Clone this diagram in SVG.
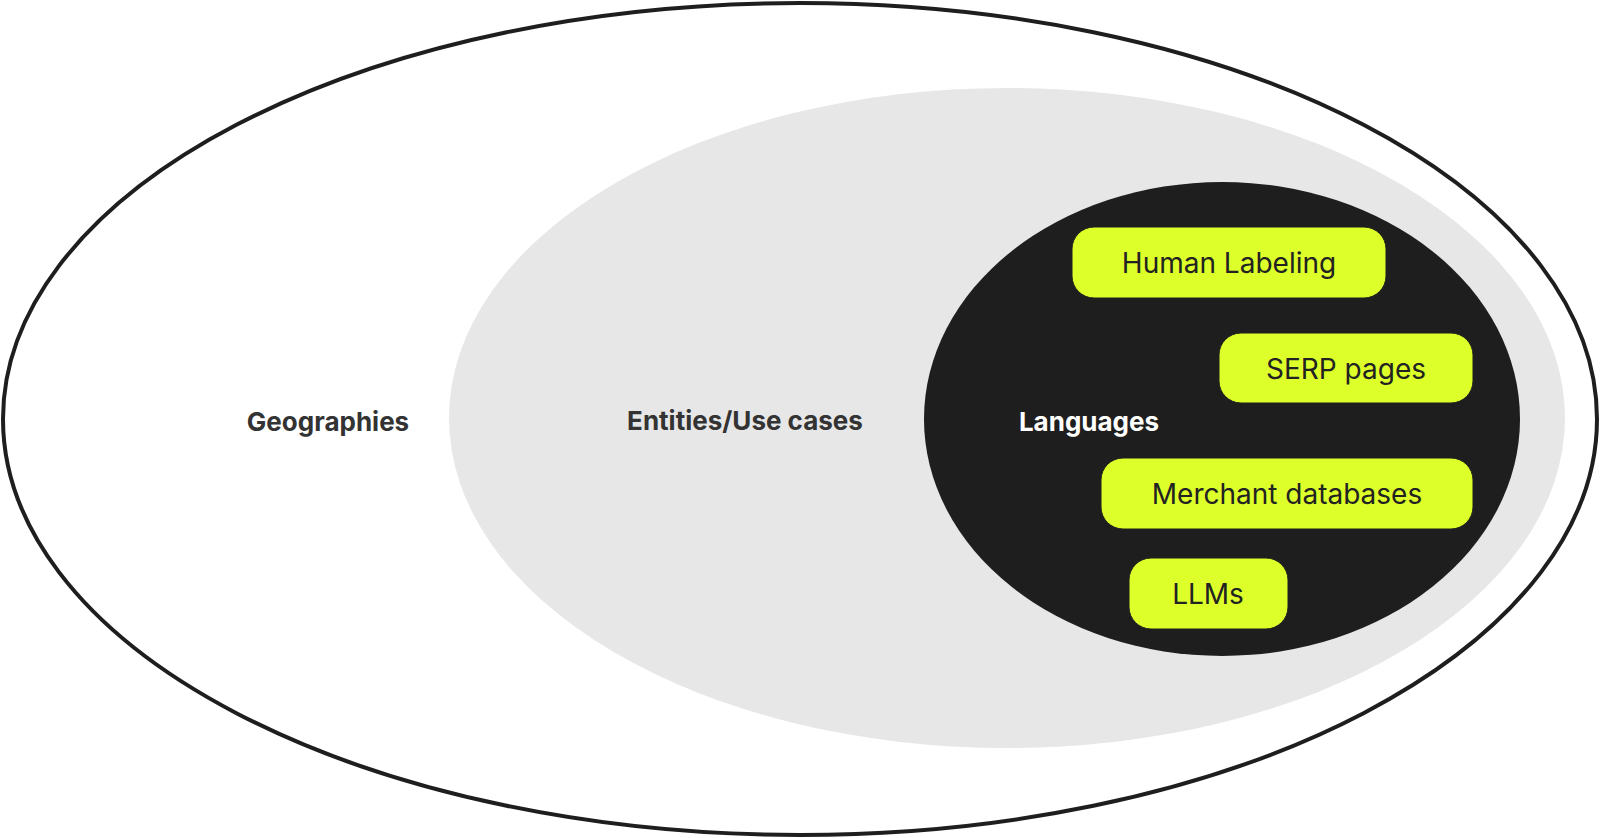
<svg xmlns="http://www.w3.org/2000/svg" width="1600" height="838" viewBox="0 0 1600 838">
<style>
.lbl{font-family:Inter,"Liberation Sans",sans-serif;font-weight:700;font-size:26px;text-anchor:middle;dominant-baseline:central}
.pill{fill:#ddff2a;stroke:#1e1e1e;stroke-width:1}
.pt{font-family:Inter,"Liberation Sans",sans-serif;font-size:28px;fill:#222;text-anchor:middle;dominant-baseline:central}
</style>
<rect width="1600" height="838" fill="#fff"/>
<g id="geographies"><ellipse cx="800" cy="419" rx="797" ry="416" fill="#fff" stroke="#1e1e1e" stroke-width="4"/><text class="lbl" x="328" y="421" fill="#333">Geographies</text></g>
<g id="entities"><ellipse cx="1007" cy="418" rx="558" ry="330" fill="#e7e7e7"/><text class="lbl" x="745" y="420" fill="#333">Entities/Use cases</text></g>
<g id="languages"><ellipse cx="1222" cy="419" rx="298" ry="237" fill="#1e1e1e"/><text class="lbl" x="1089" y="421" fill="#fff">Languages</text></g>
<g id="human-labeling"><rect class="pill" x="1072" y="227" width="314" height="71" rx="22"/><text class="pt" x="1229" y="263">Human Labeling</text></g>
<g id="serp-pages"><rect class="pill" x="1219" y="333" width="254" height="70" rx="22"/><text class="pt" x="1346" y="369">SERP pages</text></g>
<g id="merchant-databases"><rect class="pill" x="1101" y="458" width="372" height="71" rx="22"/><text class="pt" x="1287" y="494">Merchant databases</text></g>
<g id="llms"><rect class="pill" x="1129" y="558" width="159" height="71" rx="22"/><text class="pt" x="1208" y="594">LLMs</text></g>
<g id="connectors"/>
</svg>
